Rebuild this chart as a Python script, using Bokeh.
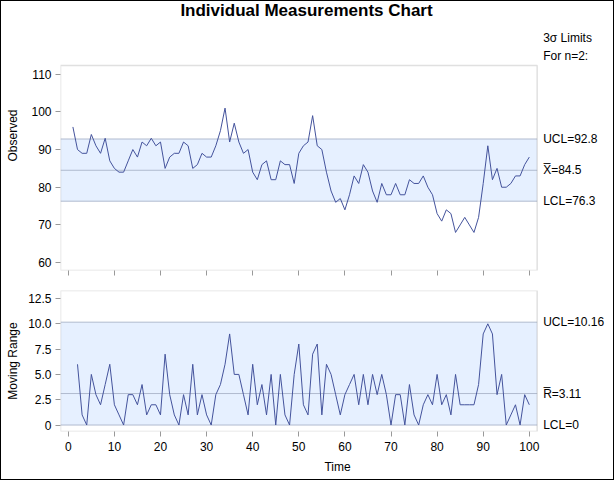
from bokeh.plotting import figure
from bokeh.models import BoxAnnotation, Label, FixedTicker, Range1d
from bokeh.layouts import column
from bokeh.embed import file_html
from bokeh.resources import INLINE

# ---------------- data ----------------
time = list(range(1, 101))
observed = [96, 90, 89, 89, 94, 91, 89, 93, 87, 85,
            84, 84, 87, 90, 88, 92, 91, 93, 91, 92,
            85, 88, 89, 89, 92, 91, 85, 86, 89, 88,
            88, 91, 95, 101, 92, 97, 92, 89, 90, 84,
            82, 86, 87, 82, 82, 87, 86, 86, 81, 89,
            91, 92, 99, 91, 90, 84, 79, 76, 77, 74,
            78, 83, 81, 86, 84, 79, 76, 81, 78, 78,
            81, 78, 78, 82, 81, 81, 83, 80, 78, 73,
            71, 74, 73, 68, 70, 72, 70, 68, 72, 81,
            91, 82, 85, 80, 80, 81, 83, 83, 86, 88]
mr_time = time[1:]
moving_range = [abs(b - a) for a, b in zip(observed[:-1], observed[1:])]

x_ucl, x_center, x_lcl = 92.8, 84.5, 76.3
r_ucl, r_center, r_lcl = 10.16, 3.11, 0.0

x_ticks = [0, 10, 20, 30, 40, 50, 60, 70, 80, 90, 100]
obs_ticks = [60, 70, 80, 90, 100, 110]
mr_ticks = [0, 2.5, 5, 7.5, 10, 12.5]
mr_tick_labels = ["0", "2.5", "5.0", "7.5", "10.0", "12.5"]

# ---------------- style ----------------
FONT = "Liberation Sans"
FRAME = "#999999"
ZONE = "#E6F0FF"
LIMIT = "#B0BACF"
DATA = "#44539C"
TXT = "#000000"

# plotting box (data extent) and the wider frame that also holds side texts
BOX_X = (-1.69, 101.7)
FRAME_X = (-1.69, 118.48)
OBS_BOX_Y = (57.9, 112.3)
OBS_FRAME_Y = (57.9, 129.56)
MR_Y = (-0.64, 13.29)


def style_axes(p):
    for ax in (p.xaxis[0], p.yaxis[0]):
        ax.axis_line_color = None
        ax.major_tick_line_color = FRAME
        ax.minor_tick_line_color = None
        ax.major_tick_out = 5
        ax.major_tick_in = 0
        ax.major_label_text_font = FONT
        ax.major_label_text_font_size = "12px"
        ax.major_label_text_color = TXT
        ax.axis_label_text_font = FONT
        ax.axis_label_text_font_size = "12px"
        ax.axis_label_text_font_style = "normal"
        ax.axis_label_text_color = TXT
    p.xgrid.grid_line_color = None
    p.ygrid.grid_line_color = None
    p.outline_line_color = None
    p.background_fill_color = None
    p.background_fill_alpha = 0
    p.border_fill_color = None
    p.border_fill_alpha = 0


def add_limits(p, ybox, ucl, center, lcl):
    p.add_layout(BoxAnnotation(left=BOX_X[0], right=BOX_X[1], bottom=lcl, top=ucl,
                               fill_color=ZONE, fill_alpha=1.0, line_color=None,
                               level="underlay"))
    for v in (ucl, center, lcl):
        p.segment(x0=BOX_X[0], x1=BOX_X[1], y0=v, y1=v, line_color=LIMIT, line_width=1)
    p.add_layout(BoxAnnotation(left=BOX_X[0], right=BOX_X[1], bottom=ybox[0], top=ybox[1],
                               fill_color=None, line_color=FRAME, line_width=1.5))


def side_label(p, x, y, text, align="left", size="12px", style="normal"):
    p.add_layout(Label(x=x, y=y, text=text, text_font=FONT, text_font_size=size,
                       text_font_style=style, text_color=TXT, text_align=align,
                       text_baseline="middle"))


# ---------------- upper: observed ----------------
p1 = figure(frame_width=554, frame_height=270,
            x_range=Range1d(*FRAME_X), y_range=Range1d(*OBS_FRAME_Y),
            min_border_left=60, min_border_right=0, min_border_top=0, min_border_bottom=10,
            toolbar_location=None, output_backend="svg")
style_axes(p1)
add_limits(p1, OBS_BOX_Y, x_ucl, x_center, x_lcl)
p1.line(time, observed, line_color=DATA, line_width=1)
p1.xaxis.ticker = FixedTicker(ticks=x_ticks)
p1.xaxis.major_label_overrides = {t: "" for t in x_ticks}
p1.xaxis.major_label_standoff = 0
p1.yaxis.ticker = FixedTicker(ticks=obs_ticks)
p1.yaxis.axis_label = "Observed"
p1.yaxis.major_label_standoff = 4
p1.yaxis.axis_label_standoff = 8

LX = 103.0
side_label(p1, LX, x_ucl, "UCL=92.8")
side_label(p1, LX, x_center, "X\u0305=84.5")
side_label(p1, LX, x_lcl, "LCL=76.3")
side_label(p1, LX, 119.6, "3\u03c3 Limits")
side_label(p1, LX, 114.8, "For n=2:")
side_label(p1, 51.67, 126.9, "Individual Measurements Chart", align="center",
           size="17px", style="bold")

# ---------------- lower: moving range ----------------
p2 = figure(frame_width=554, frame_height=141,
            x_range=p1.x_range, y_range=Range1d(*MR_Y),
            min_border_left=60, min_border_right=0, min_border_top=10, min_border_bottom=49,
            toolbar_location=None, output_backend="svg")
style_axes(p2)
add_limits(p2, MR_Y, r_ucl, r_center, r_lcl)
p2.line(mr_time, moving_range, line_color=DATA, line_width=1)
p2.xaxis.ticker = FixedTicker(ticks=x_ticks)
p2.xaxis.axis_label = "Time"
p2.xaxis.major_label_standoff = 5
p2.xaxis.axis_label_standoff = 6
p2.yaxis.ticker = FixedTicker(ticks=mr_ticks)
p2.yaxis.major_label_overrides = {t: s for t, s in zip(mr_ticks, mr_tick_labels)}
p2.yaxis.axis_label = "Moving Range"
p2.yaxis.major_label_standoff = 4
p2.yaxis.axis_label_standoff = 5

side_label(p2, LX, r_ucl, "UCL=10.16")
side_label(p2, LX, r_center, "R\u0305=3.11")
side_label(p2, LX, r_lcl, "LCL=0")

layout = column(p1, p2, spacing=0,
                styles={"background-color": "white",
                        "box-shadow": "inset 0 0 0 1px black"})
open("out.html", "w").write(file_html(layout, INLINE))
